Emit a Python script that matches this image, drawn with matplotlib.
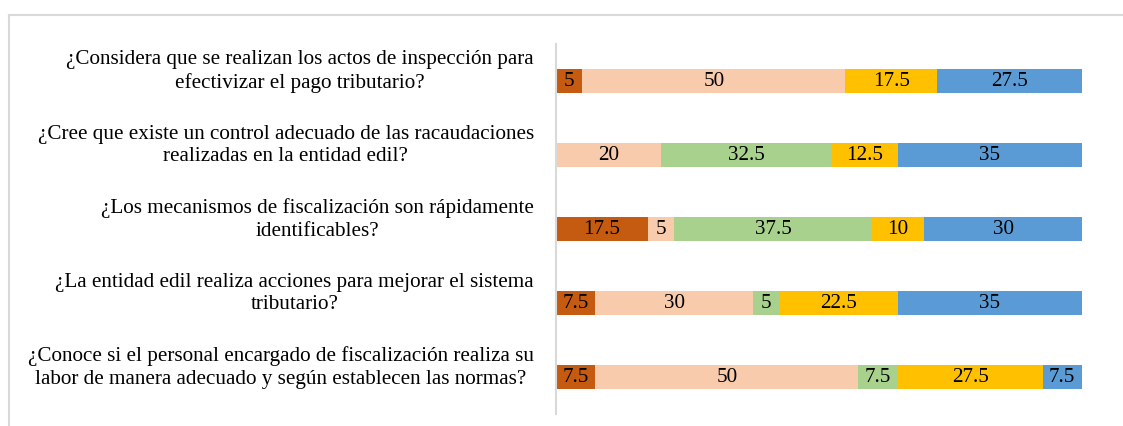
import matplotlib
matplotlib.use("Agg")
import matplotlib.pyplot as plt
import matplotlib.transforms as mtransforms
from matplotlib.lines import Line2D

questions = [
    "¿Considera que se realizan los actos de inspección para\nefectivizar el pago tributario?",
    "¿Cree que existe un control adecuado de las racaudaciones\nrealizadas en la entidad edil?",
    "¿Los mecanismos de fiscalización son rápidamente\nidentificables?",
    "¿La entidad edil realiza acciones para mejorar el sistema\ntributario?",
    "¿Conoce si el personal encargado de fiscalización realiza su\nlabor de manera adecuado y según establecen las normas?",
]
s1 = [5, 0, 17.5, 7.5, 7.5]
s2 = [50, 20, 5, 30, 50]
s3 = [0, 32.5, 37.5, 5, 7.5]
s4 = [17.5, 12.5, 10, 22.5, 27.5]
s5 = [27.5, 35, 30, 35, 7.5]
series = [s1, s2, s3, s4, s5]
colors = ["#C55A11", "#F8CBAD", "#A9D18E", "#FFC000", "#5B9BD5"]

plt.rcParams['font.family'] = ['Liberation Serif', 'DejaVu Serif']

fig = plt.figure(figsize=(11.23, 4.26), dpi=100)
ax = fig.add_axes([556/1123, 1-414/426, 526/1123, (414-44)/426])

ypos = list(range(len(questions)))
left = [0]*len(questions)
for vals, col in zip(series, colors):
    ax.barh(ypos, vals, left=left, height=0.32, color=col, edgecolor='none')
    for y, v, l in zip(ypos, vals, left):
        if v > 0:
            ax.text(l + v/2, y, f"{v:g}", ha='center', va='center', fontsize=15.2, color='black')
    left = [a + b for a, b in zip(left, vals)]

ax.set_xlim(0, 100)
ax.set_ylim(4.5, -0.5)
ax.set_yticks(ypos)
ax.set_yticklabels(questions, fontsize=15.2, multialignment='center', color='black', linespacing=1.27)
ax.tick_params(axis='y', length=0, pad=16)
ax.set_xticks([])
offset = mtransforms.ScaledTranslation(0, 14/100, fig.dpi_scale_trans)
for lbl in ax.get_yticklabels():
    lbl.set_transform(lbl.get_transform() + offset)
for s in ['top', 'right', 'bottom']:
    ax.spines[s].set_visible(False)
ax.spines['left'].set_color('#D9D9D9')
ax.spines['left'].set_linewidth(1.5)

# outer frame (top and left edges visible)
fig.add_artist(Line2D([9/1123, 1], [1-15/426, 1-15/426], color='#D9D9D9', lw=1.5, transform=fig.transFigure))
fig.add_artist(Line2D([9/1123, 9/1123], [0, 1-15/426], color='#D9D9D9', lw=1.5, transform=fig.transFigure))

fig.savefig("out.png", dpi=100)
